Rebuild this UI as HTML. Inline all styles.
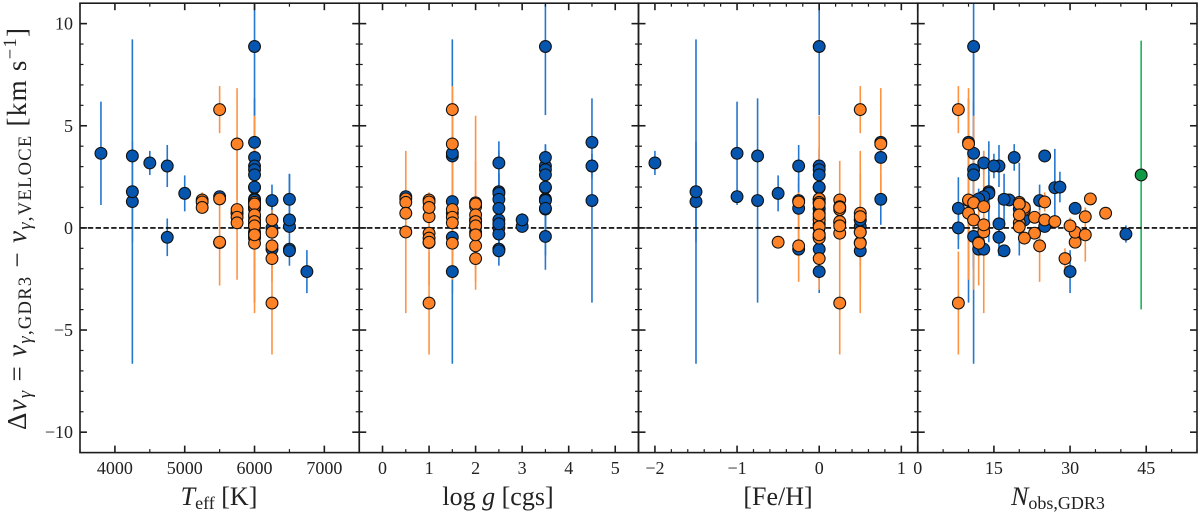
<!DOCTYPE html>
<html lang="en">
<head>
<meta charset="utf-8">
<title>Radial velocity residuals</title>
<style>
html,body{margin:0;padding:0;background:#fff;width:1200px;height:513px;overflow:hidden}
svg{display:block}
text{font-family:"Liberation Serif","DejaVu Serif",serif;fill:#222}
.tick-label{font-size:18px}
.axis-title{font-size:26px}
.sub{font-size:18px}
.ytitle{font-size:27px}
.ytitle .sub{font-size:18.5px}
</style>
</head>
<body>
<svg id="chart" width="1200" height="513" viewBox="0 0 1200 513" xmlns="http://www.w3.org/2000/svg">
  <rect x="0" y="0" width="1200" height="513" fill="#fff"></rect>
  <text class="ytitle" transform="translate(26,430) rotate(-90)" textLength="402" lengthAdjust="spacing"><tspan>Δ</tspan><tspan font-style="italic">v</tspan><tspan class="sub" dy="5" font-style="italic">γ</tspan><tspan dy="-5"> = </tspan><tspan font-style="italic">v</tspan><tspan class="sub" dy="5"><tspan font-style="italic">γ</tspan>,GDR3</tspan><tspan dy="-5"> − </tspan><tspan font-style="italic">v</tspan><tspan class="sub" dy="5"><tspan font-style="italic">γ</tspan>,VELOCE</tspan><tspan dy="-5"> [km s</tspan><tspan class="sub" dy="-10">−1</tspan><tspan dy="10">]</tspan></text>
  <text class="axis-title" x="219" y="505" text-anchor="middle"><tspan font-style="italic">T</tspan><tspan class="sub" dy="4">eff</tspan><tspan dy="-4">  [K]</tspan></text>
  <text class="axis-title" x="498" y="505" text-anchor="middle">log <tspan font-style="italic">g</tspan>  [cgs]</text>
  <text class="axis-title" x="778" y="505" text-anchor="middle">[Fe/H]</text>
  <text class="axis-title" x="1058" y="505" text-anchor="middle"><tspan font-style="italic">N</tspan><tspan class="sub" dy="4" font-size="20.5px">obs,GDR3</tspan></text>
</svg>
<script>
// Blue sample
const blueTeff = [6000,4250,4250,4250,3800,4500,4750,4750,5000,5500,6000,6000,6000,6000,6000,6000,6000,6000,6000,6000,6500,6250,6000,6000,6500,6500,6500,6000,6250,6000,6000,6000,6250,6500,6500,6750];
const blueLogg = [3.5,1.5,2.5,1.5,1.5,2.5,3.5,1.5,2.5,0.5,4.5,3.5,4.5,3.5,3.5,3.5,3.5,4.5,3.5,3.5,2.5,3.5,3.5,3.5,2.5,3,3,2.5,2.5,3.5,2.5,2.5,2.5,2.5,2.5,1.5];
const blueFeh = [0,-1.5,-1.5,-0.75,-1,-2,-0.25,0,-0.5,-1,0.75,0.75,0,0,0,0,0,-0.75,0,0,0.75,-0.25,0,0,0.5,0.5,0.5,0,0,-0.25,0,0,-0.25,0,0.5,0];
const blueNobs = [11,11,14,25,11,13,16,16,14,13,10,19,15,11,11,27,28,10,12,18,17,24,20,11,11,25,21,31,8,8,41,16,12,13,17,30];
const blueDv = [8.88,1.29,1.77,3.52,3.65,3.18,3.03,-0.46,1.69,1.53,4.19,3.45,3.03,2.85,2.6,1.97,2,1.34,1.42,1.37,1.4,1.34,0.92,-0.42,0.39,0.07,0.39,0.96,0,0.96,-0.3,0.2,-1.04,-1.04,-1.12,-2.14];
const blueErr = [3.36,7.94,2.47,0.2,2.53,0.59,1.03,0.92,0.88,0.15,0.15,0.65,0.6,0.2,0.2,1.9,0.75,5,0.5,0.2,1.25,0.78,2.27,1.63,2.24,0.3,0.33,0.3,1.04,1.52,0.42,1.4,0.3,0.3,0.3,1.05];
// Orange sample
const orangeTeff = [5500,6250,5750,5750,5250,6000,6250,5500,6000,6000,6000,5250,5500,6000,5750,6000,6000,6000,5500,5750,5750,5750,6000,5250,6000,6250,6250,6250,6000,6000,6000,6000,6000,6000];
const orangeLogg = [1.5,1,1.5,1.5,1,2,2,1,0.5,2,2,1,0.5,0.5,0.5,1,1,1,1,1.5,1.5,1.5,1.5,1,2,2,2,2,2,2,2,2,2,2];
const orangeFeh = [0.5,0.25,0.75,0,0.25,0,0,0.5,0.5,0.25,0,-0.25,0,0,0.5,0.5,0.25,0,-0.5,0.25,0,0.25,0.5,0.25,0,0.5,-0.25,0,0,0,0,0.25,0.25,0];
const orangeNobs = [8,8,10,10,10,11,11,12,13,13,13,25,34,20,37,33,23,21,31,21,23,20,12,21,25,31,24,29,20,20,20,27,30,33];
const orangeDv = [5.79,-3.68,4.11,0.72,1.37,1.23,0.39,-0.72,-0.2,1.04,0.15,1.27,1.42,1.25,0.72,0.55,-0.26,-0.5,-0.7,0.9,0.52,0.25,-0.75,1,0.39,-0.21,-0.88,-1.5,1.17,0.05,0.64,0.31,0.1,-0.34];
const orangeErr = [1.15,2.52,2.73,3.26,0.3,4.26,0.2,2.1,3.97,2.24,0.4,0.47,0.2,0.2,0.2,0.45,0.2,0.2,0.1,0.15,0.1,0.1,0.1,0.3,0.2,0.1,1.76,0.5,0.2,0.15,0.1,0.2,0.4,1.31];
// Green star (only in the Nobs panel)
const greenNobs = [44];
const greenDv = [2.59];
const greenErr = [6.58];
// Tick labels
const teffTicks = [4000,5000,6000,7000];
const loggTicks = [0,1,2,3,4,5];
const fehTicks = [-2,-1,0,1];
const nobsTicks = [0,15,30,45];
const dvTicks = [-10,-5,0,5,10];

const NS = 'http://www.w3.org/2000/svg';
const svg = document.getElementById('chart');
const plotTop = 3.2, plotBottom = 452.6, plotLeft = 80, panelWidth = 279.25;
const yMin = -11, yMax = 11;
const LINE = {blue:'#2476cf', orange:'#ff9344', green:'#1fb159'};
const FILL = {blue:'#0656b0', orange:'#ff8326', green:'#0e9a45'};
const INK = '#1c1c1c';

function yScale(v){ return plotBottom - (v - yMin) / (yMax - yMin) * (plotBottom - plotTop); }
function fmt(v){ return String(v).replace('-', '\u2212'); }
function make(tag, parent, attrs){
  const el = document.createElementNS(NS, tag);
  for (const k in attrs) el.setAttribute(k, attrs[k]);
  parent.appendChild(el);
  return el;
}

const panels = [
  {key:'teff', min:3500, max:7500, ticks:teffTicks, minor:500, b:blueTeff, o:orangeTeff, g:null},
  {key:'logg', min:-0.5, max:5.5, ticks:loggTicks, minor:0.5, b:blueLogg, o:orangeLogg, g:null},
  {key:'feh', min:-2.2, max:1.2, ticks:fehTicks, minor:0.2, b:blueFeh, o:orangeFeh, g:null},
  {key:'nobs', min:0, max:55, ticks:nobsTicks, minor:5, b:blueNobs, o:orangeNobs, g:greenNobs}
];

const defs = make('defs', svg, {});

panels.forEach(function(p, idx){
  const left = plotLeft + idx * panelWidth, right = left + panelWidth;
  const xScale = function(v){ return left + (v - p.min) / (p.max - p.min) * panelWidth; };
  const clipId = 'clip-' + p.key;
  const clip = make('clipPath', defs, {id:clipId});
  make('rect', clip, {x:left, y:plotTop, width:panelWidth, height:plotBottom - plotTop});

  const g = make('g', svg, {});
  
  
  const marks = make('g', g, {'clip-path':'url(#' + clipId + ')'});
  
  

  function bars(xs, dv, err, color){
    xs.forEach(function(x, i){
      const bar = make('line', marks, {x1:xScale(x), x2:xScale(x), y1:yScale(dv[i] + err[i]), y2:yScale(dv[i] - err[i]), stroke:LINE[color], 'stroke-width':1.6});
      
      
    });
  }
  function points(xs, dv, color){
    xs.forEach(function(x, i){
      const pt = make('circle', marks, {cx:xScale(x), cy:yScale(dv[i]), r:5.9, fill:FILL[color], stroke:'#111', 'stroke-width':1.1});
      
      
    });
  }
  bars(p.b, blueDv, blueErr, 'blue');
  bars(p.o, orangeDv, orangeErr, 'orange');
  if (p.g) bars(p.g, greenDv, greenErr, 'green');

  const zero = make('line', marks, {x1:left, x2:right, y1:yScale(0), y2:yScale(0), stroke:'#000', 'stroke-width':1.6, 'stroke-dasharray':'5.4 2.4'});
  
  

  points(p.b, blueDv, 'blue');
  points(p.o, orangeDv, 'orange');
  if (p.g) points(p.g, greenDv, 'green');

  const frame = make('rect', g, {x:left, y:plotTop, width:panelWidth, height:plotBottom - plotTop, fill:'none', stroke:INK, 'stroke-width':1.6});
  
  

  // x minor ticks
  const firstMinor = Math.ceil(p.min / p.minor - 1e-9);
  const lastMinor = Math.floor(p.max / p.minor + 1e-9);
  for (let m = firstMinor; m <= lastMinor; m++){
    const v = m * p.minor;
    const isMajor = p.ticks.some(function(t){ return Math.abs(t - v) < 1e-6; });
    const len = isMajor ? 7 : 3.5;
    const w = isMajor ? 1.6 : 1.2;
    const xp = xScale(v);
    const tb = make('line', g, {x1:xp, x2:xp, y1:plotBottom, y2:plotBottom - len, stroke:INK, 'stroke-width':w});
    
    
    const tt = make('line', g, {x1:xp, x2:xp, y1:plotTop, y2:plotTop + len, stroke:INK, 'stroke-width':w});
    
    
  }
  // y ticks on both sides
  for (let v = yMin + 1; v <= yMax - 1; v++){
    const isMajor = dvTicks.indexOf(v) >= 0;
    const len = isMajor ? 7 : 3.5;
    const w = isMajor ? 1.6 : 1.2;
    const yp = yScale(v);
    const tl = make('line', g, {x1:left, x2:left + len, y1:yp, y2:yp, stroke:INK, 'stroke-width':w});
    
    
    const tr = make('line', g, {x1:right, x2:right - len, y1:yp, y2:yp, stroke:INK, 'stroke-width':w});
    
    
  }
  // x tick labels
  p.ticks.forEach(function(t){
    const lab = make('text', g, {x:xScale(t), y:474, 'text-anchor':'middle', 'class':'tick-label'});
    lab.textContent = fmt(t);
    
    
  });
  // y tick labels (first panel only)
  if (idx === 0){
    dvTicks.forEach(function(t){
      const lab = make('text', g, {x:73, y:yScale(t) + 6, 'text-anchor':'end', 'class':'tick-label'});
      lab.textContent = fmt(t);
      
      
    });
  }
});
</script>
</body>
</html>
